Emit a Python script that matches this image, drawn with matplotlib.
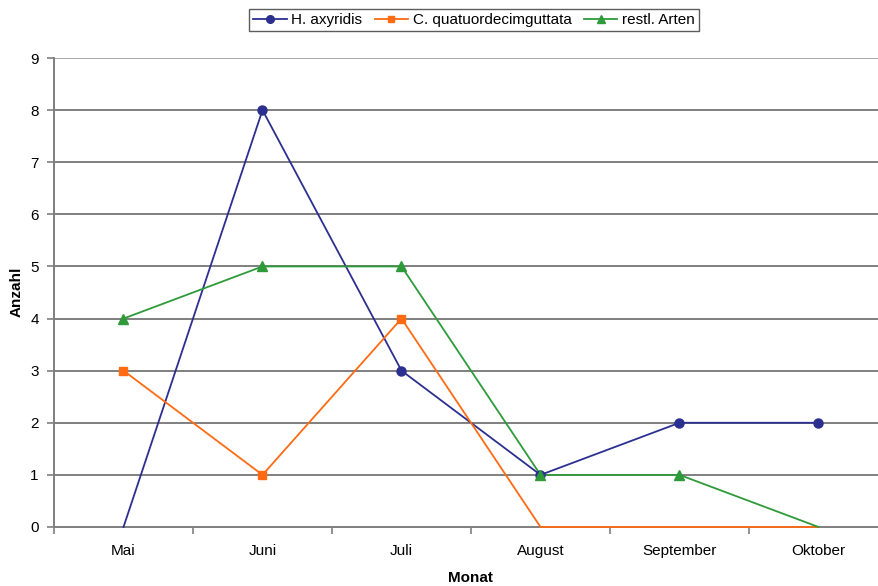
import matplotlib
matplotlib.use('Agg')
import matplotlib.pyplot as plt
import numpy as np
from matplotlib.ticker import FixedLocator, NullFormatter

plt.rcParams['font.family'] = ['Liberation Sans', 'DejaVu Sans']

months = ['Mai', 'Juni', 'Juli', 'August', 'September', 'Oktober']
h_axyridis = [0, 8, 3, 1, 2, 2]
c_quatuor = [3, 1, 4, 0, 0, 0]
restl_arten = [4, 5, 5, 1, 1, 0]

series = [
    ('H. axyridis', h_axyridis, '#2B2F8F', 'o', 6.5),
    ('C. quatuordecimguttata', c_quatuor, '#FF6A13', 's', 6),
    ('restl. Arten', restl_arten, '#2E9A3A', '^', 7),
]

W, H = 879, 586
fig = plt.figure(figsize=(W / 100, H / 100), dpi=100)
left, right, top, bottom = 54, 879, 58, 527
ax = fig.add_axes([left / W, 1 - bottom / H, (right - left) / W, (bottom - top) / H])

x = np.arange(len(months))
cat_w = 139.0
x_max = -0.5 + (right - left) / cat_w
ax.set_xlim(-0.5, x_max)
ax.set_ylim(0, 9)

for yv in range(1, 10):
    ax.axhline(yv, color='#7f7f7f' if yv < 9 else '#a8a8a8', linewidth=1.4, zorder=1)

handles = []
for name, vals, color, mk, ms in series:
    vals = np.array(vals, dtype=float)
    ax.plot(x, vals, color=color, linewidth=1.3, zorder=3, clip_on=False)
    keep = vals > 0
    ax.plot(x[keep], vals[keep], linestyle='none', marker=mk, markersize=ms,
            color=color, zorder=4, clip_on=False)
    h, = ax.plot([], [], color=color, linewidth=1.3, marker=mk, markersize=ms - 1)
    handles.append(h)

for s in ['top', 'right']:
    ax.spines[s].set_visible(False)
for s in ['left', 'bottom']:
    ax.spines[s].set_color('#7f7f7f')
    ax.spines[s].set_linewidth(1.4)

ax.set_yticks(range(0, 10))
ax.tick_params(axis='y', length=5, width=1.2, color='#7f7f7f', labelsize=11, pad=6)
ax.xaxis.set_major_locator(FixedLocator(np.arange(-0.5, 6.0, 1.0)))
ax.xaxis.set_major_formatter(NullFormatter())
ax.xaxis.set_minor_locator(FixedLocator(x))
ax.set_xticklabels(months, minor=True)
ax.tick_params(axis='x', which='major', length=5, width=1.2, color='#7f7f7f')
ax.tick_params(axis='x', which='minor', length=0, labelsize=11, pad=12)

fig.text(17 / W, 1 - 292 / H, 'Anzahl', rotation=90, ha='center', va='center',
         fontsize=11, fontweight='bold')
fig.text(470 / W, 1 - 578 / H, 'Monat', ha='center', va='center',
         fontsize=11, fontweight='bold')

leg = fig.legend(handles, [s[0] for s in series], loc='center',
                 bbox_to_anchor=(474 / W, 1 - 20 / H), ncol=3, fontsize=11,
                 frameon=True, fancybox=False, handlelength=2.2, handletextpad=0.3,
                 columnspacing=0.8, borderpad=0.25, borderaxespad=0)
leg.get_frame().set_edgecolor('#333333')
leg.get_frame().set_linewidth(1.0)

fig.savefig('out.png', dpi=100)
